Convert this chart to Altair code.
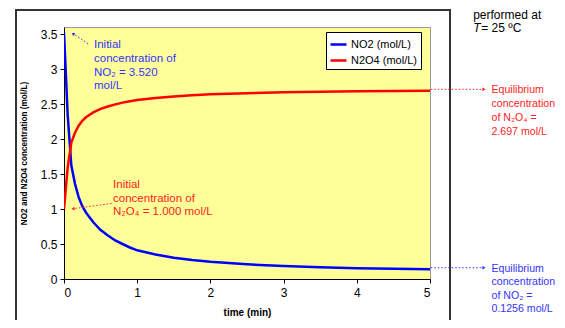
import altair as alt
import pandas as pd

# ---- data ----
time = [0, 0.05, 0.1, 0.15, 0.2, 0.25, 0.3, 0.4, 0.5, 0.6, 0.7, 0.8, 0.9, 1.0,
        1.25, 1.5, 1.75, 2.0, 2.5, 3.0, 3.5, 4.0, 4.5, 5.0]
no2 = [3.52, 2.35, 1.62, 1.36, 1.17, 1.04, 0.95, 0.81, 0.70, 0.62, 0.55, 0.50, 0.45, 0.41,
       0.35, 0.305, 0.27, 0.245, 0.21, 0.185, 0.168, 0.155, 0.146, 0.14]
n2o4 = [1.0, 1.59, 1.95, 2.09, 2.19, 2.26, 2.31, 2.38, 2.43, 2.465, 2.495, 2.52, 2.54, 2.557,
        2.587, 2.607, 2.625, 2.638, 2.655, 2.668, 2.676, 2.683, 2.687, 2.69]
series_names = ["NO2 (mol/L)", "N2O4 (mol/L)"]
series_colors = ["#0000FF", "#FF0000"]

y_ticks = [0, 0.5, 1, 1.5, 2, 2.5, 3, 3.5]
x_ticks = [0, 1, 2, 3, 4, 5]

# annotation texts (positions in data units)
ann_text = ["Initial", "concentration of", "NO\u2082 = 3.520", "mol/L",
            "Initial", "concentration of", "N\u2082O\u2084 = 1.000 mol/L",
            "Equilibrium", "concentration", "of N\u2082O\u2084 =", "2.697 mol/L",
            "Equilibrium", "concentration", "of NO\u2082 =", "0.1256 mol/L",
            "performed at", "= 25 \u00baC"]
ann_t = [0.41, 0.41, 0.41, 0.41,
         0.67, 0.67, 0.67,
         5.84, 5.84, 5.84, 5.84,
         5.84, 5.84, 5.84, 5.84,
         5.59, 5.70]
ann_c = [3.30, 3.10, 2.90, 2.71,
         1.30, 1.10, 0.91,
         2.66, 2.46, 2.26, 2.06,
         0.10, -0.09, -0.28, -0.47,
         3.71, 3.525]
ann_col = ["#3333FF"] * 4 + ["#FF2222"] * 3 + ["#FF2222"] * 4 + ["#3333FF"] * 4 + ["#000000"] * 2
ann_size = [11.5] * 7 + [10.6] * 8 + [12, 12]

# arrows: tail -> head
arr_t1 = [0.33, 0.65, 5.01, 5.01]
arr_c1 = [3.36, 1.08, 2.71, 0.161]
arr_t2 = [0.13, 0.13, 5.73, 5.73]
arr_c2 = [3.50, 1.005, 2.71, 0.161]
arr_angle = [301, 262, 90, 90]
arr_col = ["#3333FF", "#FF2222", "#FF2222", "#3333FF"]

FONT = "Liberation Sans"

n = len(time)
df = pd.DataFrame({
    "time": time + time,
    "conc": no2 + n2o4,
    "series": [series_names[0]] * n + [series_names[1]] * n,
})
ann = pd.DataFrame({"t": ann_t, "c": ann_c, "text": ann_text, "col": ann_col, "size": ann_size})
arr = pd.DataFrame({"t": arr_t1, "c": arr_c1, "t2": arr_t2, "c2": arr_c2,
                    "angle": arr_angle, "col": arr_col})
temp = pd.DataFrame({"t": [5.59], "c": [3.525], "text": ["T"]})

xscale = alt.Scale(domain=[0, 5], nice=False)
yscale = alt.Scale(domain=[0, 3.6], nice=False)

x_axis = alt.Axis(
    values=x_ticks, title="time (min)", format="d",
    titleFont=FONT, titleFontSize=10, titleFontWeight="bold", titleColor="#000",
    titlePadding=9, labelFont=FONT, labelFontSize=12, labelColor="#000",
    domainColor="#000", tickColor="#000", tickSize=4, labelPadding=4, grid=False)
y_axis = alt.Axis(
    values=y_ticks, title="NO2 and N2O4 concentration (mol/L)", format=".1~f",
    labelOverlap=False, labelFlush=False,
    titleFont=FONT, titleFontSize=8.2, titleFontWeight="bold", titleColor="#000",
    titlePadding=12, labelFont=FONT, labelFontSize=12, labelColor="#000",
    domainColor="#000", tickColor="#000", tickSize=4, labelPadding=3, grid=False)

frame = alt.Chart(pd.DataFrame({"a": [0]})).mark_rect(
    fill="white", fillOpacity=0, stroke="#333333", strokeWidth=2, clip=False
).encode(x=alt.value(-48), x2=alt.value(386), y=alt.value(-17), y2=alt.value(330))

lines = alt.Chart(df).mark_line(strokeWidth=2.5, clip=True).encode(
    x=alt.X("time:Q", scale=xscale, axis=x_axis),
    y=alt.Y("conc:Q", scale=yscale, axis=y_axis),
    color=alt.Color("series:N", scale=alt.Scale(domain=series_names, range=series_colors),
                    legend=alt.Legend(title=None, orient="none", legendX=262, legendY=5,
                                      symbolType="stroke", symbolSize=256, symbolStrokeWidth=2.5,
                                      labelFont=FONT, labelFontSize=11, labelColor="#000",
                                      strokeColor="#000", fillColor="white", padding=3,
                                      rowPadding=1, labelOffset=3)),
    order="time:Q",
)

texts = alt.Chart(ann).mark_text(align="left", baseline="alphabetic", font=FONT,
                                 clip=False).encode(
    x=alt.X("t:Q", scale=xscale, axis=x_axis), y=alt.Y("c:Q", scale=yscale, axis=y_axis),
    text="text:N", color=alt.Color("col:N", scale=None),
    size=alt.Size("size:Q", scale=None))

temp_text = alt.Chart(temp).mark_text(align="left", baseline="alphabetic", font=FONT,
                                      fontSize=12, fontStyle="italic", clip=False,
                                      color="#000").encode(
    x=alt.X("t:Q", scale=xscale, axis=x_axis), y=alt.Y("c:Q", scale=yscale, axis=y_axis),
    text="text:N")

arrow_lines = alt.Chart(arr).mark_rule(strokeWidth=1, strokeDash=[1.5, 2], clip=False).encode(
    x=alt.X("t:Q", scale=xscale, axis=x_axis), y=alt.Y("c:Q", scale=yscale, axis=y_axis),
    x2="t2:Q", y2="c2:Q", color=alt.Color("col:N", scale=None))

arrow_heads = alt.Chart(arr).mark_point(shape="triangle", filled=True, size=14, opacity=1,
                                        clip=False).encode(
    x=alt.X("t2:Q", scale=xscale, axis=x_axis), y=alt.Y("c2:Q", scale=yscale, axis=y_axis),
    angle=alt.Angle("angle:Q", scale=None), color=alt.Color("col:N", scale=None))

chart = alt.layer(frame, lines, arrow_lines, arrow_heads, texts, temp_text).properties(
    width=366, height=252,
    autosize=alt.AutoSizeParams(type="none"),
    padding={"left": 56, "top": 19, "right": 127, "bottom": 41},
    background="white",
).configure_view(fill="#FFFF99", stroke="#999999", strokeWidth=1)

chart.save("out.html", embed_options={"renderer": "svg", "actions": False})
